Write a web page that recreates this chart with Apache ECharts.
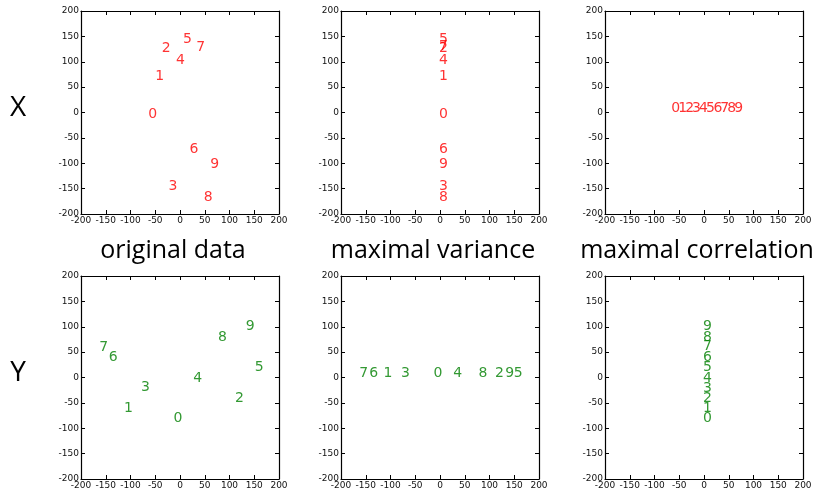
<!DOCTYPE html>
<html>
<head>
<meta charset="utf-8">
<script src="https://cdn.jsdelivr.net/npm/echarts@6/dist/echarts.min.js"></script>
<style>
  html, body { margin: 0; padding: 0; background: #fff; }
  #chart { width: 817px; height: 490px; }
</style>
</head>
<body>
<div id="chart"></div>
<script>
// digit labels, one point per digit
const digits = ['0', '1', '2', '3', '4', '5', '6', '7', '8', '9'];

// X row
const xOrigX = [-55, -41, -28, -14, 1, 15, 28, 42, 57, 70];
const xOrigY = [-3, 71, 126, -145, 102, 145, -73, 128, -167, -102];
const xVarX = [7, 7, 7, 7, 7, 7, 7, 7, 7, 7];
const xVarY = [-3, 71, 127, -145, 102, 145, -73, 131, -167, -102];
const xCorX = [-57, -43, -29, -15, -1, 13, 28, 42, 56, 70];
const xCorY = [8, 8, 8, 8, 8, 8, 8, 8, 8, 8];

// Y row
const yOrigX = [-4, -104, 120, -70, 36, 160, -135, -154, 86, 142];
const yOrigY = [-81, -61, -41, -20, -1, 20, 39, 60, 79, 100];
const yVarX = [-4, -105, 120, -70, 36, 158, -134, -154, 87, 141];
const yVarY = [8, 8, 8, 8, 8, 8, 8, 8, 8, 8];
const yCorX = [7, 7, 7, 7, 7, 7, 7, 7, 7, 7];
const yCorY = [-81, -61, -42, -21, -1, 20, 40, 62, 80, 100];

const colTitles = ['original data', 'maximal variance', 'maximal correlation'];
const rowTitles = ['X', 'Y'];
const axisMin = -200, axisMax = 200, axisStep = 50;

const panels = [
  { xs: xOrigX, ys: xOrigY, color: '#ff0000' },
  { xs: xVarX, ys: xVarY, color: '#ff0000' },
  { xs: xCorX, ys: xCorY, color: '#ff0000' },
  { xs: yOrigX, ys: yOrigY, color: '#008000' },
  { xs: yVarX, ys: yVarY, color: '#008000' },
  { xs: yCorX, ys: yCorY, color: '#008000' }
];

const colLeft = [81, 341, 605];
const rowTop = [11, 276];
const boxW = 198, boxH = 203;

let chart = echarts.init(document.getElementById('chart'));

let grids = [], xAxes = [], yAxes = [], series = [];
const tickLabel = { fontFamily: 'DejaVu Sans', fontSize: 9, color: '#111', margin: 2, showMinLabel: true, showMaxLabel: true };
const line = { show: true, onZero: false, lineStyle: { color: '#000', width: 1.2 } };
const tick = { show: true, inside: true, length: 4, lineStyle: { color: '#000' } };

panels.forEach(function (p, i) {
  let r = Math.floor(i / 3), c = i % 3;
  grids.push({ left: colLeft[c], top: rowTop[r], width: boxW, height: boxH });
  let base = { type: 'value', gridIndex: i, min: axisMin, max: axisMax, interval: axisStep, splitLine: { show: false }, axisLine: line, axisTick: tick };
  xAxes.push(Object.assign({}, base, { position: 'bottom', axisLabel: tickLabel }));
  xAxes.push(Object.assign({}, base, { position: 'top', axisLabel: { show: false } }));
  yAxes.push(Object.assign({}, base, { position: 'left', axisLabel: tickLabel }));
  yAxes.push(Object.assign({}, base, { position: 'right', axisLabel: { show: false } }));
  series.push({
    type: 'scatter',
    xAxisIndex: i * 2,
    yAxisIndex: i * 2,
    symbolSize: 1,
    itemStyle: { color: 'rgba(0,0,0,0)' },
    label: { show: true, position: 'inside', formatter: '{b}', color: p.color, fontFamily: 'DejaVu Sans', fontSize: 14 },
    data: digits.map(function (d, k) { return { name: d, value: [p.xs[k], p.ys[k]] }; })
  });
});

let graphics = [];
colTitles.forEach(function (t, c) {
  graphics.push({ type: 'text', x: colLeft[c] + boxW / 2 - 7, y: 251, style: { text: t, font: '25px "Open Sans"', fill: '#000', textAlign: 'center', textVerticalAlign: 'middle' } });
});
rowTitles.forEach(function (t, r) {
  graphics.push({ type: 'text', x: 18, y: rowTop[r] + 97, style: { text: t, font: '28px "Open Sans"', fill: '#000', textAlign: 'center', textVerticalAlign: 'middle' } });
});

chart.setOption({
  animation: false,
  grid: grids,
  xAxis: xAxes,
  yAxis: yAxes,
  series: series,
  graphic: graphics
});
</script>
</body>
</html>
